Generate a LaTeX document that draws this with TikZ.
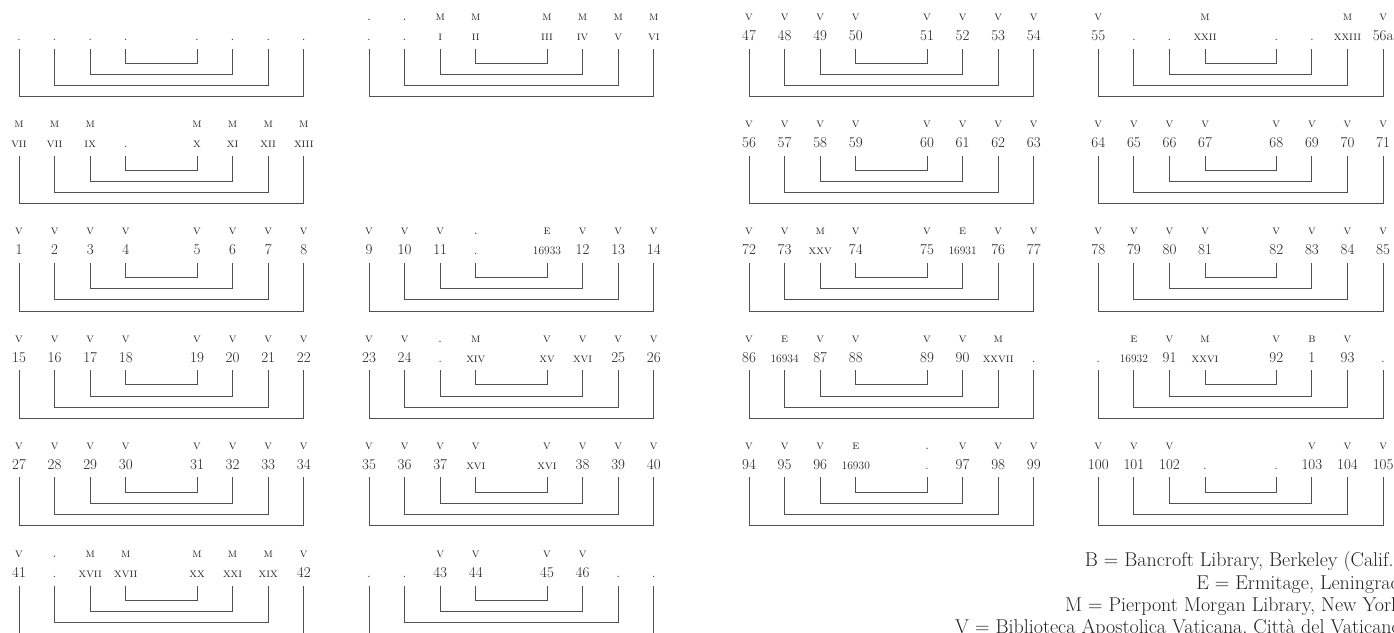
\documentclass[tikz,border=0pt]{standalone}
\usepackage{fontspec}
\usetikzlibrary{positioning}
\definecolor{ink}{HTML}{222222}
\definecolor{rule}{HTML}{505050}
\tikzset{
  %% nodes
  libmark/.style = {anchor=base, inner sep=0pt, text=ink,
                    font=\fontsize{12.5}{12.5}\selectfont\scshape},
  leaf/.style    = {anchor=base, inner sep=0pt, text=ink,
                    font=\fontsize{15}{15}\selectfont},
  keyline/.style = {anchor=base east, inner sep=0pt, text=ink,
                    font=\fontsize{20}{20}\selectfont},
  %% brackets
  fold/.style    = {draw=rule, line width=0.9pt},
}
\newcommand{\rn}[1]{{\fontsize{12.5}{12.5}\selectfont\scshape #1}}
\newcommand{\inv}[1]{{\fontsize{11.5}{11.5}\selectfont #1}}
%% #1 name, #2 left x, #3 top y, #4 sigla, #5 leaves
\newcommand{\quire}[5]{%
  \foreach \t [count=\i] in {#4} {
    \pgfmathsetmacro{\px}{#2+35.6*(\i-1+(\i>4))}
    \node[libmark] (#1t\i) at (\px,#3+20.5) {\t};
  }
  \foreach \b [count=\i] in {#5} {
    \pgfmathsetmacro{\px}{#2+35.6*(\i-1+(\i>4))}
    \node[leaf] (#1b\i) at (\px,#3+40.5) {\b};
    \coordinate (#1c\i) at (\px,#3+48.5);
  }
  \foreach \l/\r [count=\k from 0] in {4/5,3/6,2/7,1/8}
    \draw[fold] (#1c\l) -- ++(0,{14.8+11.1*\k}) -| (#1c\r);
}
\begin{document}
\begin{tikzpicture}[x=1pt, y=-1pt]
\useasboundingbox (0,0) rectangle (1394,632);
\clip (0,0) rectangle (1394,632);

%% row 1
\quire{qa}{19}{0}{,,,,,,,}{.,.,.,.,.,.,.,.}
\quire{qb}{369}{0}{.,.,m,m,m,m,m,m}{.,.,\rn{i},\rn{ii},\rn{iii},\rn{iv},\rn{v},\rn{vi}}
\quire{qc}{749}{0}{v,v,v,v,v,v,v,v}{47,48,49,50,51,52,53,54}
\quire{qd}{1098.3}{0}{v,,,m,,,m,v}{55,.,.,\rn{xxii},.,.,\rn{xxiii},56a}

%% row 2
\quire{qe}{19}{107.2}{m,m,m,,m,m,m,m}{\rn{vii},\rn{vii},\rn{ix},.,\rn{x},\rn{xi},\rn{xii},\rn{xiii}}
\quire{qf}{749}{107.2}{v,v,v,v,v,v,v,v}{56,57,58,59,60,61,62,63}
\quire{qg}{1098.3}{107.2}{v,v,v,v,v,v,v,v}{64,65,66,67,68,69,70,71}

%% row 3
\quire{qh}{19}{214.4}{v,v,v,v,v,v,v,v}{1,2,3,4,5,6,7,8}
\quire{qi}{369}{214.4}{v,v,v,.,e,v,v,v}{9,10,11,.,\inv{16933},12,13,14}
\quire{qj}{749}{214.4}{v,v,m,v,v,e,v,v}{72,73,\rn{xxv},74,75,\inv{16931},76,77}
\quire{qk}{1098.3}{214.4}{v,v,v,v,v,v,v,v}{78,79,80,81,82,83,84,85}

%% row 4
\quire{ql}{19}{321.6}{v,v,v,v,v,v,v,v}{15,16,17,18,19,20,21,22}
\quire{qm}{369}{321.6}{v,v,.,m,v,v,v,v}{23,24,.,\rn{xiv},\rn{xv},\rn{xvi},25,26}
\quire{qn}{749}{321.6}{v,e,v,v,v,v,m,}{86,\inv{16934},87,88,89,90,\rn{xxvii},.}
\quire{qo}{1098.3}{321.6}{,e,v,m,v,b,v,}{.,\inv{16932},91,\rn{xxvi},92,1,93,.}

%% row 5
\quire{qp}{19}{428.8}{v,v,v,v,v,v,v,v}{27,28,29,30,31,32,33,34}
\quire{qq}{369}{428.8}{v,v,v,v,v,v,v,v}{35,36,37,\rn{xvi},\rn{xvi},38,39,40}
\quire{qr}{749}{428.8}{v,v,v,e,.,v,v,v}{94,95,96,\inv{16930},.,97,98,99}
\quire{qs}{1098.3}{428.8}{v,v,v,,,v,v,v}{100,101,102,.,.,103,104,105}

%% row 6
\quire{qt}{19}{537}{v,.,m,m,m,m,m,v}{41,.,\rn{xvii},\rn{xvii},\rn{xx},\rn{xxi},\rn{xix},42}
\quire{qu}{369}{537}{,,v,v,v,v,,}{.,.,43,44,45,46,.,.}

%% key
\node[keyline] (keyb) at (1401,566) {B = Bancroft Library, Berkeley (Calif.)};
\node[keyline] (keye) at (1401,589) {E = Ermitage, Leningrad};
\node[keyline] (keym) at (1401,611) {M = Pierpont Morgan Library, New York};
\node[keyline] (keyv) at (1401,633) {V = Biblioteca Apostolica Vaticana, Città del Vaticano};

\end{tikzpicture}
\end{document}
